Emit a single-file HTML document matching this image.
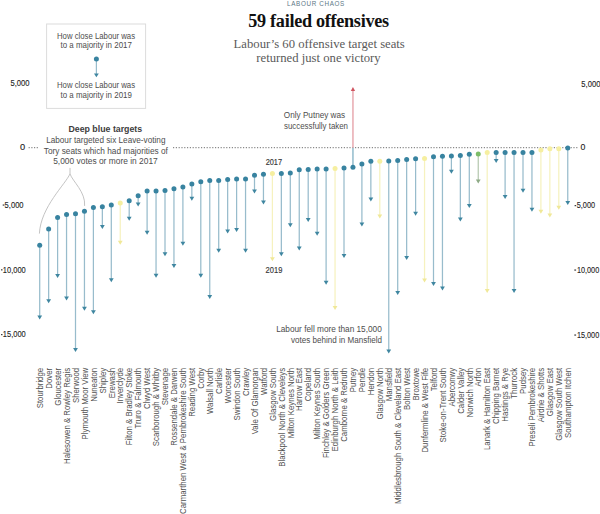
<!DOCTYPE html>
<html><head><meta charset="utf-8"><style>
html,body{margin:0;padding:0;background:#fff;}
body{width:600px;height:514px;overflow:hidden;position:relative;}
svg{position:absolute;left:0;top:0;}
</style></head><body>
<svg width="600" height="514" viewBox="0 0 600 514">
<text transform="translate(10.40,85.80) scale(0.919,1)" font-family="Liberation Sans" font-size="8.3" fill="#1f1f1f" stroke="#1f1f1f" stroke-width="0.12">5,000</text>
<text transform="translate(20.08,150.10) scale(1.118,1)" font-family="Liberation Sans" font-size="8.3" fill="#1f1f1f" stroke="#1f1f1f" stroke-width="0.12">0</text>
<text transform="translate(4.60,207.80) scale(0.914,1)" font-family="Liberation Sans" font-size="8.3" fill="#1f1f1f" stroke="#1f1f1f" stroke-width="0.12">5,000</text>
<rect x="2.70" y="204.50" width="1.70" height="1.1" fill="#2a2a2a"/>
<text transform="translate(2.84,272.60) scale(0.903,1)" font-family="Liberation Sans" font-size="8.3" fill="#1f1f1f" stroke="#1f1f1f" stroke-width="0.12">10,000</text>
<rect x="1.00" y="269.30" width="1.50" height="1.1" fill="#2a2a2a"/>
<text transform="translate(2.84,337.40) scale(0.903,1)" font-family="Liberation Sans" font-size="8.3" fill="#1f1f1f" stroke="#1f1f1f" stroke-width="0.12">15,000</text>
<rect x="1.00" y="334.10" width="1.50" height="1.1" fill="#2a2a2a"/>
<text transform="translate(581.30,86.60) scale(0.919,1)" font-family="Liberation Sans" font-size="8.3" fill="#1f1f1f" stroke="#1f1f1f" stroke-width="0.12">5,000</text>
<text transform="translate(580.44,149.90) scale(1.056,1)" font-family="Liberation Sans" font-size="8.3" fill="#1f1f1f" stroke="#1f1f1f" stroke-width="0.12">0</text>
<text transform="translate(576.71,208.40) scale(0.884,1)" font-family="Liberation Sans" font-size="8.3" fill="#1f1f1f" stroke="#1f1f1f" stroke-width="0.12">5,000</text>
<rect x="574.60" y="205.10" width="1.60" height="1.1" fill="#2a2a2a"/>
<text transform="translate(576.95,272.80) scale(0.879,1)" font-family="Liberation Sans" font-size="8.3" fill="#1f1f1f" stroke="#1f1f1f" stroke-width="0.12">10,000</text>
<rect x="574.30" y="269.50" width="1.80" height="1.1" fill="#2a2a2a"/>
<text transform="translate(576.95,337.80) scale(0.879,1)" font-family="Liberation Sans" font-size="8.3" fill="#1f1f1f" stroke="#1f1f1f" stroke-width="0.12">15,000</text>
<rect x="574.30" y="334.50" width="1.80" height="1.1" fill="#2a2a2a"/>
<g font-family="Liberation Serif" text-anchor="middle">
<text x="316" y="5.8" font-family="Liberation Sans" font-size="6.3" letter-spacing="0.66" fill="#5b7786">LABOUR CHAOS</text>
<text x="318.5" y="27.2" font-size="18.2" font-weight="bold" letter-spacing="-0.3" fill="#111">59 failed offensives</text>
<text x="319.2" y="48.3" font-size="12.7" fill="#5a5a5a">Labour’s 60 offensive target seats</text>
<text x="318.5" y="62.3" font-size="12.7" fill="#5a5a5a">returned just one victory</text>
</g>
<rect x="46.6" y="24" width="99" height="84.4" fill="#fff" stroke="#dcdcdc" stroke-width="1"/>
<line x1="96.4" y1="58.9" x2="96.4" y2="74" stroke="#98bccc" stroke-width="1.25"/>
<path d="M94,73.4L98.8,73.4L96.4,77.3Z" fill="#3f86a0"/>
<circle cx="96.4" cy="58.9" r="2.5" fill="#3883a0"/>
<line x1="28.6" y1="147.7" x2="38" y2="147.7" stroke="#6e6e6e" stroke-width="1" stroke-dasharray="1.2 1.5"/>
<line x1="173" y1="147.7" x2="579" y2="147.7" stroke="#6e6e6e" stroke-width="1" stroke-dasharray="1.2 1.6"/>
<line x1="39.70" y1="245.20000000000002" x2="39.70" y2="316.4" stroke="#98bccc" stroke-width="1.25"/>
<line x1="48.65" y1="229.10000000000002" x2="48.65" y2="300.3" stroke="#98bccc" stroke-width="1.25"/>
<line x1="57.60" y1="217.4" x2="57.60" y2="275.0" stroke="#98bccc" stroke-width="1.25"/>
<line x1="66.55" y1="214.5" x2="66.55" y2="297.4" stroke="#98bccc" stroke-width="1.25"/>
<line x1="75.50" y1="213.70000000000002" x2="75.50" y2="349.09999999999997" stroke="#98bccc" stroke-width="1.25"/>
<line x1="84.45" y1="211.20000000000002" x2="84.45" y2="307.7" stroke="#98bccc" stroke-width="1.25"/>
<line x1="93.40" y1="207.5" x2="93.40" y2="311.2" stroke="#98bccc" stroke-width="1.25"/>
<line x1="102.35" y1="206.70000000000002" x2="102.35" y2="226.1" stroke="#98bccc" stroke-width="1.25"/>
<line x1="111.30" y1="205.10000000000002" x2="111.30" y2="279.3" stroke="#98bccc" stroke-width="1.25"/>
<line x1="120.25" y1="203.0" x2="120.25" y2="241.7" stroke="#f6f2bf" stroke-width="1.25"/>
<line x1="129.20" y1="200.8" x2="129.20" y2="217.7" stroke="#98bccc" stroke-width="1.25"/>
<line x1="138.15" y1="195.70000000000002" x2="138.15" y2="203.5" stroke="#98bccc" stroke-width="1.25"/>
<line x1="147.10" y1="191.0" x2="147.10" y2="231.7" stroke="#98bccc" stroke-width="1.25"/>
<line x1="156.05" y1="191.0" x2="156.05" y2="274.7" stroke="#98bccc" stroke-width="1.25"/>
<line x1="165.00" y1="190.5" x2="165.00" y2="253.29999999999998" stroke="#98bccc" stroke-width="1.25"/>
<line x1="173.95" y1="188.70000000000002" x2="173.95" y2="265.0" stroke="#98bccc" stroke-width="1.25"/>
<line x1="182.90" y1="187.0" x2="182.90" y2="242.7" stroke="#98bccc" stroke-width="1.25"/>
<line x1="191.85" y1="184.0" x2="191.85" y2="197.79999999999998" stroke="#98bccc" stroke-width="1.25"/>
<line x1="200.80" y1="181.70000000000002" x2="200.80" y2="274.7" stroke="#98bccc" stroke-width="1.25"/>
<line x1="209.75" y1="180.5" x2="209.75" y2="296.09999999999997" stroke="#98bccc" stroke-width="1.25"/>
<line x1="218.70" y1="180.5" x2="218.70" y2="249.7" stroke="#98bccc" stroke-width="1.25"/>
<line x1="227.65" y1="179.5" x2="227.65" y2="230.39999999999998" stroke="#98bccc" stroke-width="1.25"/>
<line x1="236.60" y1="178.9" x2="236.60" y2="229.1" stroke="#98bccc" stroke-width="1.25"/>
<line x1="245.55" y1="178.9" x2="245.55" y2="249.79999999999998" stroke="#98bccc" stroke-width="1.25"/>
<line x1="254.50" y1="175.20000000000002" x2="254.50" y2="190.6" stroke="#98bccc" stroke-width="1.25"/>
<line x1="263.45" y1="174.20000000000002" x2="263.45" y2="201.5" stroke="#98bccc" stroke-width="1.25"/>
<line x1="272.40" y1="173.60000000000002" x2="272.40" y2="258.2" stroke="#f6f2bf" stroke-width="1.25"/>
<line x1="281.35" y1="173.60000000000002" x2="281.35" y2="253.29999999999998" stroke="#98bccc" stroke-width="1.25"/>
<line x1="290.30" y1="173.10000000000002" x2="290.30" y2="224.2" stroke="#98bccc" stroke-width="1.25"/>
<line x1="299.25" y1="169.8" x2="299.25" y2="247.5" stroke="#98bccc" stroke-width="1.25"/>
<line x1="308.20" y1="169.4" x2="308.20" y2="218.89999999999998" stroke="#98bccc" stroke-width="1.25"/>
<line x1="317.15" y1="169.10000000000002" x2="317.15" y2="232.7" stroke="#98bccc" stroke-width="1.25"/>
<line x1="326.10" y1="169.10000000000002" x2="326.10" y2="281.8" stroke="#98bccc" stroke-width="1.25"/>
<line x1="335.05" y1="168.5" x2="335.05" y2="306.9" stroke="#f6f2bf" stroke-width="1.25"/>
<line x1="344.00" y1="167.9" x2="344.00" y2="255.0" stroke="#98bccc" stroke-width="1.25"/>
<line x1="352.95" y1="167.3" x2="352.95" y2="147.7" stroke="#8ab6c8" stroke-width="1.4"/>
<line x1="352.95" y1="147.7" x2="352.95" y2="91.0" stroke="#e6a3aa" stroke-width="1.4"/>
<line x1="361.90" y1="164.0" x2="361.90" y2="223.39999999999998" stroke="#98bccc" stroke-width="1.25"/>
<line x1="370.85" y1="161.3" x2="370.85" y2="198.5" stroke="#98bccc" stroke-width="1.25"/>
<line x1="379.80" y1="161.3" x2="379.80" y2="215.6" stroke="#f6f2bf" stroke-width="1.25"/>
<line x1="388.75" y1="161.10000000000002" x2="388.75" y2="350.5" stroke="#98bccc" stroke-width="1.25"/>
<line x1="397.70" y1="160.5" x2="397.70" y2="292.09999999999997" stroke="#98bccc" stroke-width="1.25"/>
<line x1="406.65" y1="159.4" x2="406.65" y2="257.09999999999997" stroke="#98bccc" stroke-width="1.25"/>
<line x1="415.60" y1="158.8" x2="415.60" y2="212.7" stroke="#98bccc" stroke-width="1.25"/>
<line x1="424.55" y1="158.4" x2="424.55" y2="279.59999999999997" stroke="#f6f2bf" stroke-width="1.25"/>
<line x1="433.50" y1="156.8" x2="433.50" y2="282.9" stroke="#98bccc" stroke-width="1.25"/>
<line x1="442.45" y1="156.3" x2="442.45" y2="287.4" stroke="#98bccc" stroke-width="1.25"/>
<line x1="451.40" y1="155.9" x2="451.40" y2="170.79999999999998" stroke="#98bccc" stroke-width="1.25"/>
<line x1="460.35" y1="155.5" x2="460.35" y2="218.5" stroke="#98bccc" stroke-width="1.25"/>
<line x1="469.30" y1="154.3" x2="469.30" y2="204.89999999999998" stroke="#98bccc" stroke-width="1.25"/>
<line x1="478.25" y1="153.9" x2="478.25" y2="180.6" stroke="#b6c9b0" stroke-width="1.25"/>
<line x1="487.20" y1="152.4" x2="487.20" y2="290.09999999999997" stroke="#f6f2bf" stroke-width="1.25"/>
<line x1="496.15" y1="152.4" x2="496.15" y2="160.1" stroke="#98bccc" stroke-width="1.25"/>
<line x1="505.10" y1="152.4" x2="505.10" y2="196.1" stroke="#98bccc" stroke-width="1.25"/>
<line x1="514.05" y1="152.4" x2="514.05" y2="290.09999999999997" stroke="#98bccc" stroke-width="1.25"/>
<line x1="523.00" y1="152.4" x2="523.00" y2="189.7" stroke="#98bccc" stroke-width="1.25"/>
<line x1="531.95" y1="152.4" x2="531.95" y2="208.79999999999998" stroke="#98bccc" stroke-width="1.25"/>
<line x1="540.90" y1="150.0" x2="540.90" y2="210.7" stroke="#f6f2bf" stroke-width="1.25"/>
<line x1="549.85" y1="148.70000000000002" x2="549.85" y2="214.6" stroke="#f6f2bf" stroke-width="1.25"/>
<line x1="558.80" y1="148.70000000000002" x2="558.80" y2="206.79999999999998" stroke="#f6f2bf" stroke-width="1.25"/>
<line x1="567.75" y1="148.10000000000002" x2="567.75" y2="202.0" stroke="#98bccc" stroke-width="1.25"/>
<path d="M37.30,315.40L42.10,315.40L39.70,319.40Z" fill="#3f86a0"/>
<path d="M46.25,299.30L51.05,299.30L48.65,303.30Z" fill="#3f86a0"/>
<path d="M55.20,274.00L60.00,274.00L57.60,278.00Z" fill="#3f86a0"/>
<path d="M64.15,296.40L68.95,296.40L66.55,300.40Z" fill="#3f86a0"/>
<path d="M73.10,348.10L77.90,348.10L75.50,352.10Z" fill="#3f86a0"/>
<path d="M82.05,306.70L86.85,306.70L84.45,310.70Z" fill="#3f86a0"/>
<path d="M91.00,310.20L95.80,310.20L93.40,314.20Z" fill="#3f86a0"/>
<path d="M99.95,225.10L104.75,225.10L102.35,229.10Z" fill="#3f86a0"/>
<path d="M108.90,278.30L113.70,278.30L111.30,282.30Z" fill="#3f86a0"/>
<path d="M117.85,240.70L122.65,240.70L120.25,244.70Z" fill="#f0e898"/>
<path d="M126.80,216.70L131.60,216.70L129.20,220.70Z" fill="#3f86a0"/>
<path d="M135.75,202.50L140.55,202.50L138.15,206.50Z" fill="#3f86a0"/>
<path d="M144.70,230.70L149.50,230.70L147.10,234.70Z" fill="#3f86a0"/>
<path d="M153.65,273.70L158.45,273.70L156.05,277.70Z" fill="#3f86a0"/>
<path d="M162.60,252.30L167.40,252.30L165.00,256.30Z" fill="#3f86a0"/>
<path d="M171.55,264.00L176.35,264.00L173.95,268.00Z" fill="#3f86a0"/>
<path d="M180.50,241.70L185.30,241.70L182.90,245.70Z" fill="#3f86a0"/>
<path d="M189.45,196.80L194.25,196.80L191.85,200.80Z" fill="#3f86a0"/>
<path d="M198.40,273.70L203.20,273.70L200.80,277.70Z" fill="#3f86a0"/>
<path d="M207.35,295.10L212.15,295.10L209.75,299.10Z" fill="#3f86a0"/>
<path d="M216.30,248.70L221.10,248.70L218.70,252.70Z" fill="#3f86a0"/>
<path d="M225.25,229.40L230.05,229.40L227.65,233.40Z" fill="#3f86a0"/>
<path d="M234.20,228.10L239.00,228.10L236.60,232.10Z" fill="#3f86a0"/>
<path d="M243.15,248.80L247.95,248.80L245.55,252.80Z" fill="#3f86a0"/>
<path d="M252.10,189.60L256.90,189.60L254.50,193.60Z" fill="#3f86a0"/>
<path d="M261.05,200.50L265.85,200.50L263.45,204.50Z" fill="#3f86a0"/>
<path d="M270.00,257.20L274.80,257.20L272.40,261.20Z" fill="#f0e898"/>
<path d="M278.95,252.30L283.75,252.30L281.35,256.30Z" fill="#3f86a0"/>
<path d="M287.90,223.20L292.70,223.20L290.30,227.20Z" fill="#3f86a0"/>
<path d="M296.85,246.50L301.65,246.50L299.25,250.50Z" fill="#3f86a0"/>
<path d="M305.80,217.90L310.60,217.90L308.20,221.90Z" fill="#3f86a0"/>
<path d="M314.75,231.70L319.55,231.70L317.15,235.70Z" fill="#3f86a0"/>
<path d="M323.70,280.80L328.50,280.80L326.10,284.80Z" fill="#3f86a0"/>
<path d="M332.65,305.90L337.45,305.90L335.05,309.90Z" fill="#f0e898"/>
<path d="M341.60,254.00L346.40,254.00L344.00,258.00Z" fill="#3f86a0"/>
<path d="M350.75,90.90L355.15,90.90L352.95,87.10Z" fill="#cf5560"/>
<path d="M359.50,222.40L364.30,222.40L361.90,226.40Z" fill="#3f86a0"/>
<path d="M368.45,197.50L373.25,197.50L370.85,201.50Z" fill="#3f86a0"/>
<path d="M377.40,214.60L382.20,214.60L379.80,218.60Z" fill="#f0e898"/>
<path d="M386.35,349.50L391.15,349.50L388.75,353.50Z" fill="#3f86a0"/>
<path d="M395.30,291.10L400.10,291.10L397.70,295.10Z" fill="#3f86a0"/>
<path d="M404.25,256.10L409.05,256.10L406.65,260.10Z" fill="#3f86a0"/>
<path d="M413.20,211.70L418.00,211.70L415.60,215.70Z" fill="#3f86a0"/>
<path d="M422.15,278.60L426.95,278.60L424.55,282.60Z" fill="#f0e898"/>
<path d="M431.10,281.90L435.90,281.90L433.50,285.90Z" fill="#3f86a0"/>
<path d="M440.05,286.40L444.85,286.40L442.45,290.40Z" fill="#3f86a0"/>
<path d="M449.00,169.80L453.80,169.80L451.40,173.80Z" fill="#3f86a0"/>
<path d="M457.95,217.50L462.75,217.50L460.35,221.50Z" fill="#3f86a0"/>
<path d="M466.90,203.90L471.70,203.90L469.30,207.90Z" fill="#3f86a0"/>
<path d="M475.85,179.60L480.65,179.60L478.25,183.60Z" fill="#8eaa86"/>
<path d="M484.80,289.10L489.60,289.10L487.20,293.10Z" fill="#f0e898"/>
<path d="M493.75,159.10L498.55,159.10L496.15,163.10Z" fill="#3f86a0"/>
<path d="M502.70,195.10L507.50,195.10L505.10,199.10Z" fill="#3f86a0"/>
<path d="M511.65,289.10L516.45,289.10L514.05,293.10Z" fill="#3f86a0"/>
<path d="M520.60,188.70L525.40,188.70L523.00,192.70Z" fill="#3f86a0"/>
<path d="M529.55,207.80L534.35,207.80L531.95,211.80Z" fill="#3f86a0"/>
<path d="M538.50,209.70L543.30,209.70L540.90,213.70Z" fill="#f0e898"/>
<path d="M547.45,213.60L552.25,213.60L549.85,217.60Z" fill="#f0e898"/>
<path d="M556.40,205.80L561.20,205.80L558.80,209.80Z" fill="#f0e898"/>
<path d="M565.35,201.00L570.15,201.00L567.75,205.00Z" fill="#3f86a0"/>
<circle cx="39.70" cy="245.20000000000002" r="2.5" fill="#3883a0"/>
<circle cx="48.65" cy="229.10000000000002" r="2.5" fill="#3883a0"/>
<circle cx="57.60" cy="217.4" r="2.5" fill="#3883a0"/>
<circle cx="66.55" cy="214.5" r="2.5" fill="#3883a0"/>
<circle cx="75.50" cy="213.70000000000002" r="2.5" fill="#3883a0"/>
<circle cx="84.45" cy="211.20000000000002" r="2.5" fill="#3883a0"/>
<circle cx="93.40" cy="207.5" r="2.5" fill="#3883a0"/>
<circle cx="102.35" cy="206.70000000000002" r="2.5" fill="#3883a0"/>
<circle cx="111.30" cy="205.10000000000002" r="2.5" fill="#3883a0"/>
<circle cx="120.25" cy="203.0" r="2.5" fill="#f6efa0"/>
<circle cx="129.20" cy="200.8" r="2.5" fill="#3883a0"/>
<circle cx="138.15" cy="195.70000000000002" r="2.5" fill="#3883a0"/>
<circle cx="147.10" cy="191.0" r="2.5" fill="#3883a0"/>
<circle cx="156.05" cy="191.0" r="2.5" fill="#3883a0"/>
<circle cx="165.00" cy="190.5" r="2.5" fill="#3883a0"/>
<circle cx="173.95" cy="188.70000000000002" r="2.5" fill="#3883a0"/>
<circle cx="182.90" cy="187.0" r="2.5" fill="#3883a0"/>
<circle cx="191.85" cy="184.0" r="2.5" fill="#3883a0"/>
<circle cx="200.80" cy="181.70000000000002" r="2.5" fill="#3883a0"/>
<circle cx="209.75" cy="180.5" r="2.5" fill="#3883a0"/>
<circle cx="218.70" cy="180.5" r="2.5" fill="#3883a0"/>
<circle cx="227.65" cy="179.5" r="2.5" fill="#3883a0"/>
<circle cx="236.60" cy="178.9" r="2.5" fill="#3883a0"/>
<circle cx="245.55" cy="178.9" r="2.5" fill="#3883a0"/>
<circle cx="254.50" cy="175.20000000000002" r="2.5" fill="#3883a0"/>
<circle cx="263.45" cy="174.20000000000002" r="2.5" fill="#3883a0"/>
<circle cx="272.40" cy="173.60000000000002" r="2.5" fill="#f6efa0"/>
<circle cx="281.35" cy="173.60000000000002" r="2.5" fill="#3883a0"/>
<circle cx="290.30" cy="173.10000000000002" r="2.5" fill="#3883a0"/>
<circle cx="299.25" cy="169.8" r="2.5" fill="#3883a0"/>
<circle cx="308.20" cy="169.4" r="2.5" fill="#3883a0"/>
<circle cx="317.15" cy="169.10000000000002" r="2.5" fill="#3883a0"/>
<circle cx="326.10" cy="169.10000000000002" r="2.5" fill="#3883a0"/>
<circle cx="335.05" cy="168.5" r="2.5" fill="#f6efa0"/>
<circle cx="344.00" cy="167.9" r="2.5" fill="#3883a0"/>
<circle cx="352.95" cy="167.3" r="2.5" fill="#3883a0"/>
<circle cx="361.90" cy="164.0" r="2.5" fill="#3883a0"/>
<circle cx="370.85" cy="161.3" r="2.5" fill="#3883a0"/>
<circle cx="379.80" cy="161.3" r="2.5" fill="#f6efa0"/>
<circle cx="388.75" cy="161.10000000000002" r="2.5" fill="#3883a0"/>
<circle cx="397.70" cy="160.5" r="2.5" fill="#3883a0"/>
<circle cx="406.65" cy="159.4" r="2.5" fill="#3883a0"/>
<circle cx="415.60" cy="158.8" r="2.5" fill="#3883a0"/>
<circle cx="424.55" cy="158.4" r="2.5" fill="#f6efa0"/>
<circle cx="433.50" cy="156.8" r="2.5" fill="#3883a0"/>
<circle cx="442.45" cy="156.3" r="2.5" fill="#3883a0"/>
<circle cx="451.40" cy="155.9" r="2.5" fill="#3883a0"/>
<circle cx="460.35" cy="155.5" r="2.5" fill="#3883a0"/>
<circle cx="469.30" cy="154.3" r="2.5" fill="#3883a0"/>
<circle cx="478.25" cy="153.9" r="2.5" fill="#7dbd69"/>
<circle cx="487.20" cy="152.4" r="2.5" fill="#f6efa0"/>
<circle cx="496.15" cy="152.4" r="2.5" fill="#3883a0"/>
<circle cx="505.10" cy="152.4" r="2.5" fill="#3883a0"/>
<circle cx="514.05" cy="152.4" r="2.5" fill="#3883a0"/>
<circle cx="523.00" cy="152.4" r="2.5" fill="#3883a0"/>
<circle cx="531.95" cy="152.4" r="2.5" fill="#3883a0"/>
<circle cx="540.90" cy="150.0" r="2.5" fill="#f6efa0"/>
<circle cx="549.85" cy="148.70000000000002" r="2.5" fill="#f6efa0"/>
<circle cx="558.80" cy="148.70000000000002" r="2.5" fill="#f6efa0"/>
<circle cx="567.75" cy="148.10000000000002" r="2.5" fill="#3883a0"/>
<path d="M70,167.9 L70,173.8 C65.64,184.07 40.65,207.01 39.4,233.6" fill="none" stroke="#c4c4c4" stroke-width="1"/>
<path d="M70,173.8 C72.62,181.49 85.85,192.15 84.6,205.9" fill="none" stroke="#c4c4c4" stroke-width="1"/>
<text transform="translate(56.98,38.70) scale(0.903,1)" font-family="Liberation Sans" font-size="8.6" font-weight="normal" fill="#4d4d4d">How close Labour was</text>
<text transform="translate(60.48,48.40) scale(0.923,1)" font-family="Liberation Sans" font-size="8.6" font-weight="normal" fill="#4d4d4d">to a majority in 2017</text>
<text transform="translate(56.98,88.00) scale(0.903,1)" font-family="Liberation Sans" font-size="8.6" font-weight="normal" fill="#4d4d4d">How close Labour was</text>
<text transform="translate(60.48,98.10) scale(0.923,1)" font-family="Liberation Sans" font-size="8.6" font-weight="normal" fill="#4d4d4d">to a majority in 2019</text>
<text transform="translate(68.43,132.00) scale(1.024,1)" font-family="Liberation Sans" font-size="8.6" font-weight="bold" fill="#3d3d3d">Deep blue targets</text>
<text transform="translate(46.14,143.00) scale(0.931,1)" font-family="Liberation Sans" font-size="8.8" font-weight="normal" fill="#4d4d4d">Labour targeted six Leave-voting</text>
<text transform="translate(43.83,153.50) scale(0.940,1)" font-family="Liberation Sans" font-size="8.8" font-weight="normal" fill="#4d4d4d">Tory seats which had majorities of</text>
<text transform="translate(53.16,164.00) scale(0.956,1)" font-family="Liberation Sans" font-size="8.8" font-weight="normal" fill="#4d4d4d">5,000 votes or more in 2017</text>
<text transform="translate(283.83,118.00) scale(0.952,1)" font-family="Liberation Sans" font-size="8.6" font-weight="normal" fill="#4d4d4d">Only Putney was</text>
<text transform="translate(284.00,128.50) scale(0.917,1)" font-family="Liberation Sans" font-size="8.6" font-weight="normal" fill="#4d4d4d">successfully taken</text>
<text transform="translate(276.14,332.00) scale(0.940,1)" font-family="Liberation Sans" font-size="8.8" font-weight="normal" fill="#4d4d4d">Labour fell more than 15,000</text>
<text transform="translate(291.00,342.50) scale(0.917,1)" font-family="Liberation Sans" font-size="8.8" font-weight="normal" fill="#4d4d4d">votes behind in Mansfield</text>
<text transform="translate(265.63,165.00) scale(0.858,1)" font-family="Liberation Sans" font-size="8.6" font-weight="normal" fill="#333333" stroke="#444" stroke-width="0.15">2017</text>
<text transform="translate(265.62,272.50) scale(0.874,1)" font-family="Liberation Sans" font-size="8.6" font-weight="normal" fill="#333333" stroke="#444" stroke-width="0.15">2019</text>
<g font-family="Liberation Sans" font-size="8.6" fill="#505050">
<text transform="translate(42.90,367.8) rotate(-90) scale(0.912,1)" text-anchor="end">Stourbridge</text>
<text transform="translate(51.85,367.8) rotate(-90) scale(0.912,1)" text-anchor="end">Dover</text>
<text transform="translate(60.80,367.8) rotate(-90) scale(0.912,1)" text-anchor="end">Gloucester</text>
<text transform="translate(69.75,367.8) rotate(-90) scale(0.912,1)" text-anchor="end">Halesowen &amp; Rowley Regis</text>
<text transform="translate(78.70,367.8) rotate(-90) scale(0.912,1)" text-anchor="end">Sherwood</text>
<text transform="translate(87.65,367.8) rotate(-90) scale(0.912,1)" text-anchor="end">Plymouth Moor View</text>
<text transform="translate(96.60,367.8) rotate(-90) scale(0.912,1)" text-anchor="end">Nuneaton</text>
<text transform="translate(105.55,367.8) rotate(-90) scale(0.912,1)" text-anchor="end">Shipley</text>
<text transform="translate(114.50,367.8) rotate(-90) scale(0.912,1)" text-anchor="end">Erewash</text>
<text transform="translate(123.45,367.8) rotate(-90) scale(0.912,1)" text-anchor="end">Inverclyde</text>
<text transform="translate(132.40,367.8) rotate(-90) scale(0.912,1)" text-anchor="end">Filton &amp; Bradley Stoke</text>
<text transform="translate(141.35,367.8) rotate(-90) scale(0.912,1)" text-anchor="end">Truro &amp; Falmouth</text>
<text transform="translate(150.30,367.8) rotate(-90) scale(0.912,1)" text-anchor="end">Clwyd West</text>
<text transform="translate(159.25,367.8) rotate(-90) scale(0.912,1)" text-anchor="end">Scarborough &amp; Whitby</text>
<text transform="translate(168.20,367.8) rotate(-90) scale(0.912,1)" text-anchor="end">Stevenage</text>
<text transform="translate(177.15,367.8) rotate(-90) scale(0.912,1)" text-anchor="end">Rossendale &amp; Darwen</text>
<text transform="translate(186.10,367.8) rotate(-90) scale(0.912,1)" text-anchor="end">Carmarthen West &amp; Pembrokeshire South</text>
<text transform="translate(195.05,367.8) rotate(-90) scale(0.912,1)" text-anchor="end">Reading West</text>
<text transform="translate(204.00,367.8) rotate(-90) scale(0.912,1)" text-anchor="end">Corby</text>
<text transform="translate(212.95,367.8) rotate(-90) scale(0.912,1)" text-anchor="end">Walsall North</text>
<text transform="translate(221.90,367.8) rotate(-90) scale(0.912,1)" text-anchor="end">Carlisle</text>
<text transform="translate(230.85,367.8) rotate(-90) scale(0.912,1)" text-anchor="end">Worcester</text>
<text transform="translate(239.80,367.8) rotate(-90) scale(0.912,1)" text-anchor="end">Swindon South</text>
<text transform="translate(248.75,367.8) rotate(-90) scale(0.912,1)" text-anchor="end">Crawley</text>
<text transform="translate(257.70,367.8) rotate(-90) scale(0.912,1)" text-anchor="end">Vale Of Glamorgan</text>
<text transform="translate(266.65,367.8) rotate(-90) scale(0.912,1)" text-anchor="end">Watford</text>
<text transform="translate(275.60,367.8) rotate(-90) scale(0.912,1)" text-anchor="end">Glasgow South</text>
<text transform="translate(284.55,367.8) rotate(-90) scale(0.912,1)" text-anchor="end">Blackpool North &amp; Cleveleys</text>
<text transform="translate(293.50,367.8) rotate(-90) scale(0.912,1)" text-anchor="end">Milton Keynes North</text>
<text transform="translate(302.45,367.8) rotate(-90) scale(0.912,1)" text-anchor="end">Harrow East</text>
<text transform="translate(311.40,367.8) rotate(-90) scale(0.912,1)" text-anchor="end">Copeland</text>
<text transform="translate(320.35,367.8) rotate(-90) scale(0.912,1)" text-anchor="end">Milton Keynes South</text>
<text transform="translate(329.30,367.8) rotate(-90) scale(0.912,1)" text-anchor="end">Finchley &amp; Golders Green</text>
<text transform="translate(338.25,367.8) rotate(-90) scale(0.912,1)" text-anchor="end">Edinburgh North &amp; Leith</text>
<text transform="translate(347.20,367.8) rotate(-90) scale(0.912,1)" text-anchor="end">Camborne &amp; Redruth</text>
<text transform="translate(356.15,367.8) rotate(-90) scale(0.912,1)" text-anchor="end">Putney</text>
<text transform="translate(365.10,367.8) rotate(-90) scale(0.912,1)" text-anchor="end">Pendle</text>
<text transform="translate(374.05,367.8) rotate(-90) scale(0.912,1)" text-anchor="end">Hendon</text>
<text transform="translate(383.00,367.8) rotate(-90) scale(0.912,1)" text-anchor="end">Glasgow North</text>
<text transform="translate(391.95,367.8) rotate(-90) scale(0.912,1)" text-anchor="end">Mansfield</text>
<text transform="translate(400.90,367.8) rotate(-90) scale(0.912,1)" text-anchor="end">Middlesbrough South &amp; Cleveland East</text>
<text transform="translate(409.85,367.8) rotate(-90) scale(0.912,1)" text-anchor="end">Bolton West</text>
<text transform="translate(418.80,367.8) rotate(-90) scale(0.912,1)" text-anchor="end">Broxtowe</text>
<text transform="translate(427.75,367.8) rotate(-90) scale(0.912,1)" text-anchor="end">Dunfermline &amp; West Fife</text>
<text transform="translate(436.70,367.8) rotate(-90) scale(0.912,1)" text-anchor="end">Telford</text>
<text transform="translate(445.65,367.8) rotate(-90) scale(0.912,1)" text-anchor="end">Stoke-on-Trent South</text>
<text transform="translate(454.60,367.8) rotate(-90) scale(0.912,1)" text-anchor="end">Aberconwy</text>
<text transform="translate(463.55,367.8) rotate(-90) scale(0.912,1)" text-anchor="end">Calder Valley</text>
<text transform="translate(472.50,367.8) rotate(-90) scale(0.912,1)" text-anchor="end">Norwich North</text>
<text transform="translate(481.45,367.8) rotate(-90) scale(0.912,1)" text-anchor="end">Arfon</text>
<text transform="translate(490.40,367.8) rotate(-90) scale(0.912,1)" text-anchor="end">Lanark &amp; Hamilton East</text>
<text transform="translate(499.35,367.8) rotate(-90) scale(0.912,1)" text-anchor="end">Chipping Barnet</text>
<text transform="translate(508.30,367.8) rotate(-90) scale(0.912,1)" text-anchor="end">Hastings &amp; Rye</text>
<text transform="translate(517.25,367.8) rotate(-90) scale(0.912,1)" text-anchor="end">Thurrock</text>
<text transform="translate(526.20,367.8) rotate(-90) scale(0.912,1)" text-anchor="end">Pudsey</text>
<text transform="translate(535.15,367.8) rotate(-90) scale(0.912,1)" text-anchor="end">Preseli Pembrokeshire</text>
<text transform="translate(544.10,367.8) rotate(-90) scale(0.912,1)" text-anchor="end">Airdrie &amp; Shotts</text>
<text transform="translate(553.05,367.8) rotate(-90) scale(0.912,1)" text-anchor="end">Glasgow East</text>
<text transform="translate(562.00,367.8) rotate(-90) scale(0.912,1)" text-anchor="end">Glasgow South West</text>
<text transform="translate(570.95,367.8) rotate(-90) scale(0.912,1)" text-anchor="end">Southampton Itchen</text>
</g>
</svg>
</body></html>
